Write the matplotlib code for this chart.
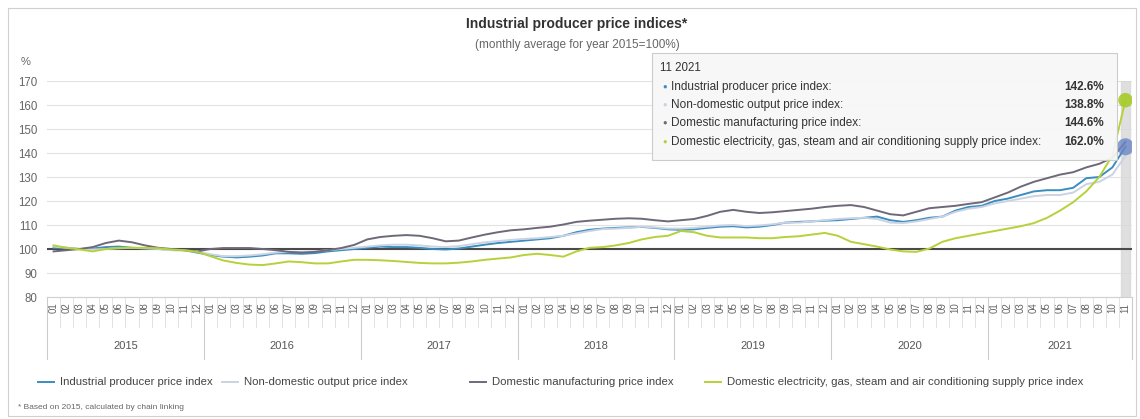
import numpy as np
import matplotlib
matplotlib.use("Agg")
import matplotlib.pyplot as plt
from matplotlib.patches import Rectangle
from matplotlib.lines import Line2D

plt.rcParams['font.family'] = ['Liberation Sans', 'DejaVu Sans']

years = ["2015", "2016", "2017", "2018", "2019", "2020", "2021"]
months_per_year = [12, 12, 12, 12, 12, 12, 11]
month_labels = []
for n in months_per_year:
    month_labels += ["%02d" % (m + 1) for m in range(n)]

series_names = [
    "Industrial producer price index",
    "Non-domestic output price index",
    "Domestic manufacturing price index",
    "Domestic electricity, gas, steam and air conditioning supply price index",
]
colors = ["#3a8dbf", "#c9d3e3", "#6f6878", "#b5d23a"]

industrial = [
    100.5, 100.5, 100.0, 100.2, 100.8, 101.0, 100.5, 100.2, 100.0, 99.8, 99.5, 98.5,
    97.5, 96.8, 96.5, 96.8, 97.3, 98.2, 98.2, 98.0, 98.3, 99.0, 99.5, 100.0,
    100.5, 101.0, 100.8, 100.8, 100.5, 100.0, 99.8, 100.2, 101.0, 101.8, 102.5, 103.0,
    103.5, 104.0, 104.5, 105.5, 107.0, 108.0, 108.5, 108.8, 109.0, 109.2, 108.8, 108.2,
    108.0, 108.2, 108.8, 109.3, 109.5, 109.0, 109.3, 110.0, 111.0, 111.3, 111.5, 111.8,
    112.0, 112.5, 113.0, 113.5, 112.0, 111.3, 112.0, 113.0, 113.5, 116.0, 117.5, 118.0,
    120.0, 121.0, 122.5, 124.0, 124.5, 124.5, 125.5, 129.5, 130.0, 134.0, 142.6,
]
non_domestic = [
    101.0, 100.5, 100.0, 99.8, 100.0, 100.3, 100.5, 100.3, 100.0, 99.5, 99.3, 99.0,
    97.8, 97.0, 97.0, 97.3, 97.8, 98.5, 98.8, 98.8, 99.0, 99.5, 100.0, 100.5,
    101.0, 101.5, 101.8, 101.8, 101.5, 101.0, 100.8, 101.2, 102.0, 102.8, 103.3, 103.8,
    104.2, 104.5, 105.0, 105.5, 106.5, 107.5, 108.3, 108.5, 108.8, 109.3, 109.0, 108.5,
    108.5, 108.8, 109.3, 109.8, 110.0, 109.5, 109.8, 110.3, 111.0, 111.0, 111.5, 112.0,
    112.5, 112.8, 113.0, 112.5, 111.0, 110.8, 111.5, 112.5, 113.5, 115.5, 116.8, 117.5,
    119.0, 120.0, 121.0, 122.0, 122.5, 122.5, 123.5, 127.0, 128.0, 131.0, 138.8,
]
manufacturing = [
    99.0, 99.5, 100.0, 100.8, 102.5, 103.5, 102.8, 101.5, 100.5, 100.0, 99.5, 99.0,
    100.0, 100.4, 100.4, 100.4, 100.0, 99.5, 98.8, 98.5, 98.8, 99.5, 100.4, 101.7,
    104.0, 105.0, 105.5, 105.8, 105.5, 104.5, 103.2, 103.5, 104.8, 106.0, 107.0, 107.8,
    108.2, 108.8, 109.3, 110.2, 111.3, 111.8, 112.2, 112.6, 112.8, 112.6, 112.0, 111.5,
    112.0, 112.5, 113.8, 115.5, 116.3, 115.5, 115.0, 115.3, 115.8, 116.3, 116.8, 117.5,
    118.0, 118.3, 117.5, 116.0, 114.5, 114.0, 115.5, 117.0, 117.5, 118.0, 118.8, 119.5,
    121.5, 123.5, 126.0, 128.0, 129.5, 131.0, 132.0, 134.0, 135.5, 138.0, 144.6,
]
electricity = [
    101.5, 100.5, 99.8, 99.0, 100.0, 100.5, 100.5, 100.5, 100.3, 99.8, 99.5, 98.8,
    97.0, 95.2, 94.2, 93.5, 93.3, 94.0, 94.8, 94.5, 94.0, 94.0, 94.8, 95.5,
    95.5, 95.3, 95.0, 94.6, 94.2, 94.0, 94.0, 94.3, 94.8, 95.5, 96.0, 96.5,
    97.5, 98.0, 97.5, 96.8, 99.0, 100.5, 100.8, 101.5, 102.5, 104.0, 105.0, 105.5,
    107.5, 107.0, 105.5, 104.8, 104.8, 104.8, 104.5, 104.5, 105.0, 105.3, 106.0, 106.7,
    105.5, 103.0, 102.0, 101.0, 99.8, 99.0, 98.8, 100.2, 103.0, 104.5, 105.5, 106.5,
    107.5, 108.5, 109.5, 110.8, 113.0, 116.0, 119.5, 124.0, 130.0, 139.0, 162.0,
]
all_series = [industrial, non_domestic, manufacturing, electricity]
yticks = [80, 90, 100, 110, 120, 130, 140, 150, 160, 170]

W, H = 1140, 419
fig = plt.figure(figsize=(W / 100, H / 100), dpi=100)

def fx(px):
    return px / W

def fy(py):
    return 1 - py / H

# outer frame
fig.patches.append(Rectangle((fx(8), fy(416)), fx(1136) - fx(8), fy(8) - fy(416),
                             transform=fig.transFigure, fill=False,
                             edgecolor="#d0d0d0", linewidth=0.8))

ax = fig.add_axes([fx(47), fy(297), fx(1132) - fx(47), fy(81) - fy(297)])
x = np.arange(len(month_labels))
n = len(x)

for yv in yticks:
    ax.axhline(yv, color="#e2e2e2", lw=0.8, zorder=1)
ax.axhline(100, color="#4a4a4a", lw=1.5, zorder=2)

# hover band on last category
ax.axvspan(x[-1] - 0.35, x[-1] + 0.35, color="#d8d8d8", alpha=0.8, zorder=1)

for s, c in zip(all_series, colors):
    ax.plot(x, s, color=c, lw=1.4, zorder=3)

ax.scatter([x[-1]], [industrial[-1]], s=150, color="#6a86c6", alpha=0.8, zorder=4, edgecolors="none")
ax.scatter([x[-1]], [electricity[-1]], s=110, color="#a6cc2a", alpha=0.9, zorder=4, edgecolors="none")

ax.set_xlim(-0.5, n - 0.5)
ax.set_ylim(80, 170)
ax.set_yticks(yticks)
ax.set_yticklabels([str(v) for v in yticks], fontsize=8.3, color="#666666")
ax.tick_params(axis="y", length=0, pad=7)
ax.set_xticks(x)
ax.set_xticklabels(month_labels, rotation=90, fontsize=7, color="#666666")
ax.tick_params(axis="x", length=0, pad=4)
for sp in ax.spines.values():
    sp.set_visible(False)

# category separators and year groups
tr = ax.get_xaxis_transform()
bounds = np.cumsum([0] + months_per_year)
for b in range(n + 1):
    ax.plot([b - 0.5, b - 0.5], [0, -0.14], transform=tr, color="#dddddd", lw=0.6, clip_on=False)
for b in bounds:
    ax.plot([b - 0.5, b - 0.5], [0, -0.285], transform=tr, color="#cccccc", lw=0.8, clip_on=False)
for i, yr in enumerate(years):
    ax.text((bounds[i] + bounds[i + 1] - 1) / 2, -0.225, yr, transform=tr,
            ha="center", va="center", fontsize=8, color="#555555")
ax.plot([-0.5, n - 0.5], [0, 0], transform=tr, color="#d0d0d0", lw=0.8, clip_on=False)

# titles
fig.text(fx(577), fy(24), "Industrial producer price indices*", ha="center", va="center",
         fontsize=10, fontweight="bold", color="#333333")
fig.text(fx(577), fy(45), "(monthly average for year 2015=100%)", ha="center", va="center",
         fontsize=8.5, color="#666666")
fig.text(fx(21), fy(62), "%", ha="left", va="center", fontsize=8, color="#666666")

# tooltip
fig.patches.append(Rectangle((fx(652), fy(160)), fx(1117) - fx(652), fy(53) - fy(160),
                             transform=fig.transFigure, facecolor="#f7f7f7", alpha=0.92,
                             edgecolor="#c8c8c8", linewidth=0.8, zorder=10))
fig.text(fx(660), fy(68), "11 2021", ha="left", va="center", fontsize=8.3, color="#333333", zorder=11)
row_y = [87, 105, 123, 142]
for ry, name, c, s in zip(row_y, series_names, colors, all_series):
    fig.text(fx(662), fy(ry), "\u25cf", ha="left", va="center", fontsize=5.5, color=c, zorder=11)
    fig.text(fx(671), fy(ry), name + ":", ha="left", va="center", fontsize=8.5, color="#333333", zorder=11)
    fig.text(fx(1104), fy(ry), "%.1f%%" % s[-1], ha="right", va="center", fontsize=8.5,
             fontweight="bold", color="#333333", zorder=11)

# legend
leg_x = [38, 222, 470, 705]
for lx, name, c in zip(leg_x, series_names, colors):
    fig.lines.append(Line2D([fx(lx), fx(lx + 16)], [fy(382), fy(382)], transform=fig.transFigure,
                            color=c, lw=1.4))
    fig.text(fx(lx + 22), fy(382), name, ha="left", va="center", fontsize=8.2, color="#444444")

fig.text(fx(18), fy(407), "* Based on 2015, calculated by chain linking", ha="left", va="center",
         fontsize=6, color="#666666")

fig.savefig("out.png", dpi=100)
